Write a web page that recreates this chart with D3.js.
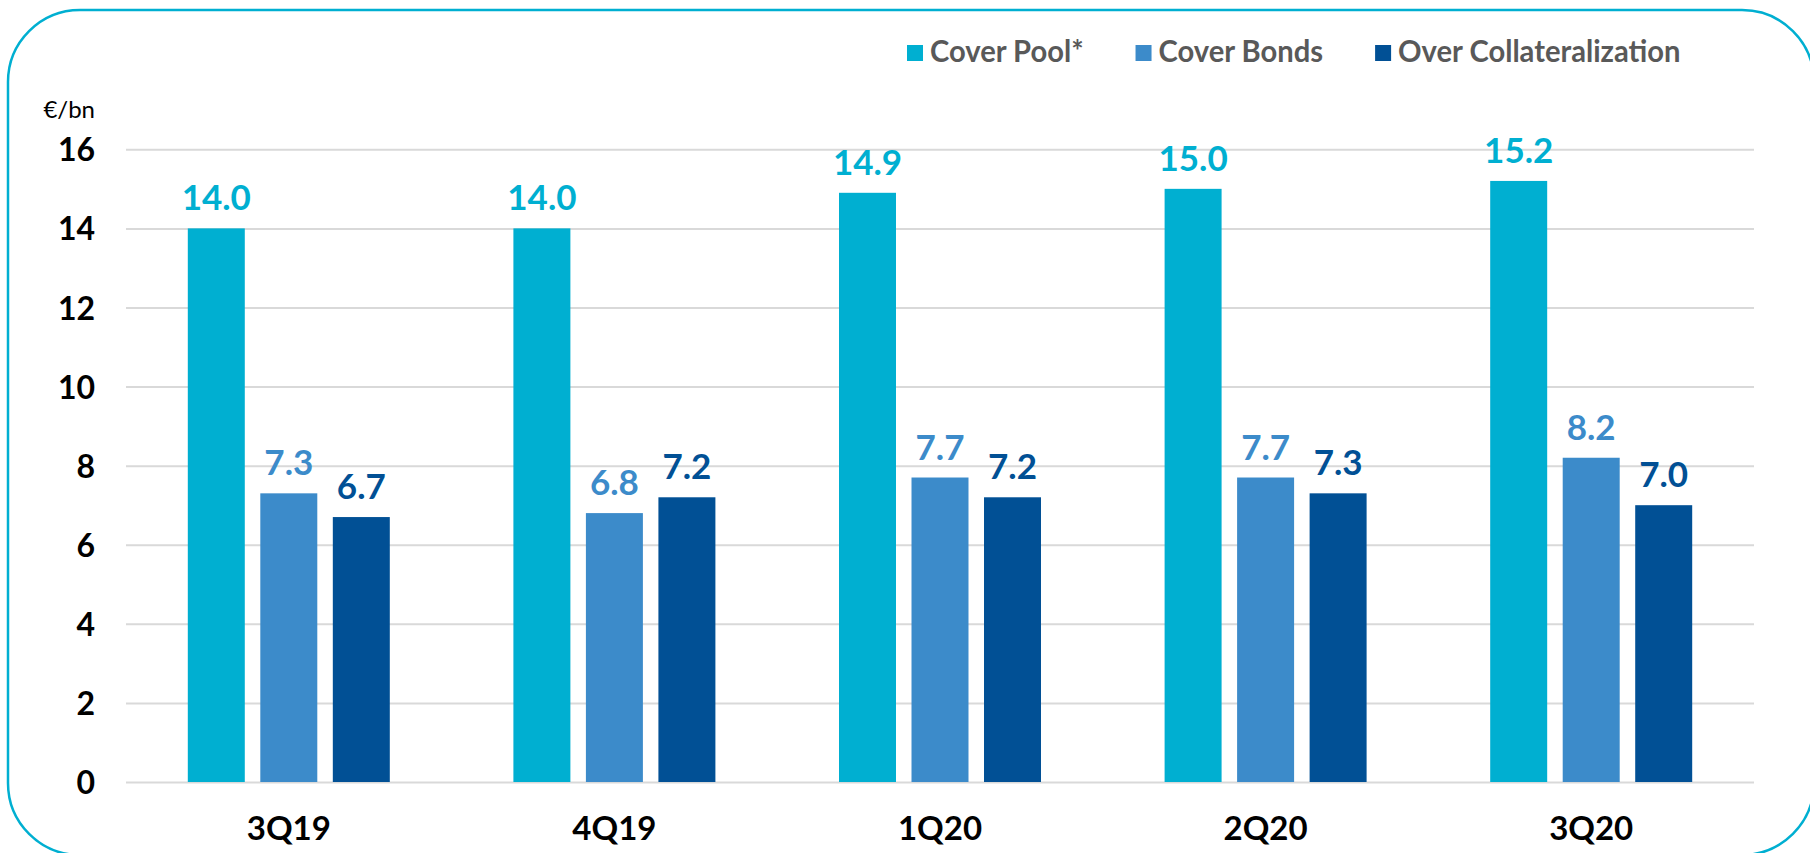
<!DOCTYPE html>
<html>
<head>
<meta charset="utf-8">
<script src="https://cdn.jsdelivr.net/npm/d3@7"></script>
<style>
  html, body { margin: 0; padding: 0; background: #ffffff; }
  svg { display: block; }
</style>
</head>
<body>
<svg id="chart" width="1810" height="853"></svg>
<script>
// ---- data ----
const categories = ["3Q19", "4Q19", "1Q20", "2Q20", "3Q20"];
const seriesNames = ["Cover Pool*", "Cover Bonds", "Over Collateralization"];
const coverPool = [14.0, 14.0, 14.9, 15.0, 15.2];
const coverBonds = [7.3, 6.8, 7.7, 7.7, 8.2];
const overCollateralization = [6.7, 7.2, 7.2, 7.3, 7.0];
const yTicks = [0, 2, 4, 6, 8, 10, 12, 14, 16];
const unitLabel = "€/bn";

// ---- styles ----
const colors = ["#00AFD1", "#3C8BCA", "#015095"];
const seriesValues = [coverPool, coverBonds, overCollateralization];
const W = 1810, H = 853;
const plot = { left: 126, right: 1754, top: 149.3, bottom: 782 };
const fontFamily = "Lato, 'Open Sans', 'DejaVu Sans', sans-serif";

const svg = d3.select("#chart");

// frame
svg.append("rect")
  .attr("x", 8).attr("y", 10)
  .attr("width", 1806).attr("height", 845)
  .attr("rx", 72).attr("ry", 72)
  .attr("fill", "none")
  .attr("stroke", "#00AFD1")
  .attr("stroke-width", 2.5);

// scales
const x0 = d3.scaleBand().domain(categories).range([plot.left, plot.right]).padding(0);
const groupHalf = 101;
const x1 = d3.scaleBand().domain(seriesNames).range([-groupHalf, groupHalf]).paddingInner(0.214).paddingOuter(0);
const y = d3.scaleLinear().domain([0, 16]).range([plot.bottom, plot.top]);

// gridlines
const grid = svg.append("g")
  .attr("transform", `translate(${plot.left},0)`)
  .call(d3.axisLeft(y).tickValues(yTicks).tickSize(-(plot.right - plot.left)).tickFormat(""));
grid.select(".domain").remove();
grid.selectAll(".tick line").attr("stroke", "#d9d9d9").attr("stroke-width", 2);

// y tick labels
const yAxis = svg.append("g")
  .attr("transform", `translate(95,0)`)
  .call(d3.axisLeft(y).tickValues(yTicks).tickSize(0).tickPadding(0).tickFormat(d3.format("d")));
yAxis.select(".domain").remove();
yAxis.selectAll("text")
  .attr("font-family", fontFamily)
  .attr("font-weight", 700)
  .attr("font-size", 32)
  .attr("fill", "#000")
  .attr("dy", "0.36em");

// unit label
svg.append("text")
  .attr("x", 95).attr("y", 118)
  .attr("text-anchor", "end")
  .attr("font-family", fontFamily)
  .attr("font-size", 24)
  .attr("fill", "#000")
  .text(unitLabel);

// data rows
const rows = categories.map((c, i) => ({
  cat: c,
  vals: seriesNames.map((s, j) => ({ series: s, idx: j, value: seriesValues[j][i] }))
}));

const groups = svg.append("g").selectAll("g")
  .data(rows).join("g")
  .attr("transform", d => `translate(${x0(d.cat) + x0.bandwidth() / 2},0)`);

groups.selectAll("rect")
  .data(d => d.vals).join("rect")
  .attr("x", d => x1(d.series))
  .attr("width", x1.bandwidth())
  .attr("y", d => y(d.value))
  .attr("height", d => y(0) - y(d.value))
  .attr("fill", d => colors[d.idx]);

groups.selectAll("text.val")
  .data(d => d.vals).join("text")
  .attr("class", "val")
  .attr("x", d => x1(d.series) + x1.bandwidth() / 2)
  .attr("y", d => y(d.value) - 18)
  .attr("text-anchor", "middle")
  .attr("font-family", fontFamily)
  .attr("font-weight", 700)
  .attr("font-size", 35)
  .attr("fill", d => colors[d.idx])
  .text(d => d3.format(".1f")(d.value));

// x axis labels
const xAxis = svg.append("g")
  .attr("transform", `translate(0,${plot.bottom})`)
  .call(d3.axisBottom(x0).tickSize(0).tickPadding(0));
xAxis.select(".domain").remove();
xAxis.selectAll("text")
  .attr("font-family", fontFamily)
  .attr("font-weight", 700)
  .attr("font-size", 33)
  .attr("fill", "#000")
  .attr("dy", null)
  .attr("y", 58);

// legend
const legend = svg.append("g");
let lx = 907;
const condense = 0.94;
seriesNames.forEach((name, j) => {
  legend.append("rect")
    .attr("x", lx).attr("y", 45)
    .attr("width", 16).attr("height", 16)
    .attr("fill", colors[j]);
  const t = legend.append("text")
    .attr("x", lx + 23).attr("y", 62)
    .attr("font-family", fontFamily)
    .attr("font-weight", 700)
    .attr("font-size", 31)
    .attr("fill", "#595959")
    .text(name);
  const natural = t.node().getComputedTextLength();
  const w = natural * condense;
  t.attr("textLength", w).attr("lengthAdjust", "spacingAndGlyphs");
  lx = lx + 23 + w + 52;
});
</script>
</body>
</html>
